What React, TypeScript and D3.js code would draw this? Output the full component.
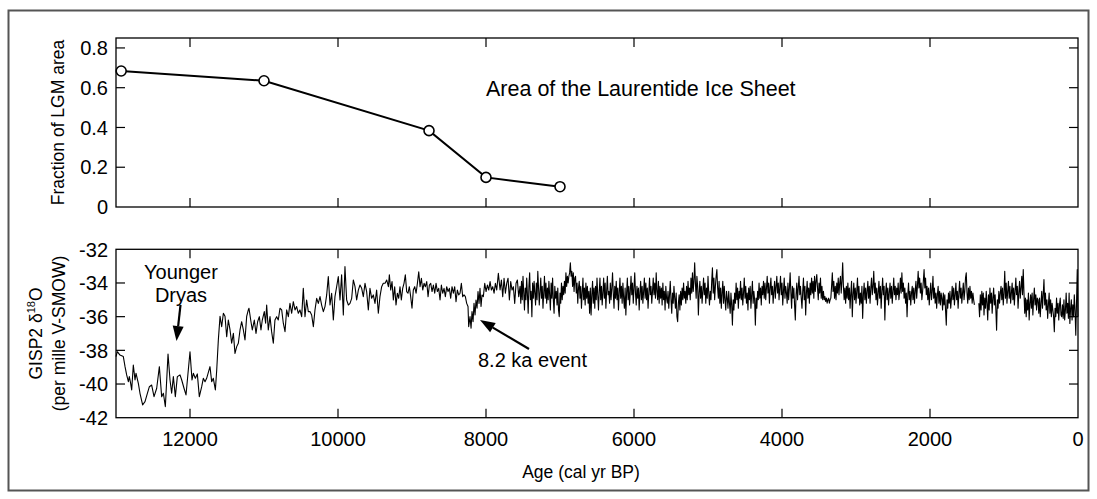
import React from "react";
import * as d3 from "d3";

// ---- Top panel: Laurentide Ice Sheet area (fraction of LGM) ----
const lisAge = [12930, 11000, 8770, 8000, 7000];
const lisFraction = [0.684, 0.635, 0.384, 0.149, 0.102];

// ---- Bottom panel: GISP2 d18O ----
// Deglacial / early Holocene section, read as [age, d18O]
const earlyRecord: [number, number][] = [
  [13000,-38.37],[12982,-38.08],[12946,-38.28],[12901,-38.37],[12878,-38.97],[12856,-39.46],[12833,-39.86],[12820,-39.56],
  [12802,-39.96],[12788,-40.35],[12766,-38.87],[12743,-39.76],[12730,-39.36],[12698,-39.96],[12676,-40.55],[12640,-41.24],
  [12608,-41.05],[12576,-40.55],[12549,-40.16],[12518,-40.06],[12486,-40.75],[12450,-40.25],[12414,-38.97],[12383,-40.75],
  [12360,-40.55],[12333,-41.34],[12297,-38.22],[12270,-39.76],[12248,-40.55],[12225,-39.56],[12198,-40.75],[12171,-39.56],
  [12135,-39.46],[12112,-39.76],[12081,-40.25],[12054,-40.65],[12027,-39.36],[12000,-38.08],[11973,-39.76],[11955,-39.36],
  [11928,-39.66],[11901,-39.40],[11874,-40.75],[11842,-40.16],[11820,-39.66],[11797,-39.86],[11775,-39.66],[11730,-38.97],
  [11707,-39.86],[11685,-39.66],[11657,-40.35],[11639,-39.17],[11617,-37.38],[11594,-35.98],[11572,-36.59],[11549,-35.80],
  [11527,-35.98],[11504,-37.19],[11482,-36.20],[11459,-36.79],[11437,-37.58],[11414,-36.99],[11392,-38.18],[11369,-37.78],
  [11347,-37.58],[11324,-36.79],[11302,-36.30],[11279,-36.79],[11257,-37.38],[11234,-35.98],[11212,-35.60],
  [11203,-35.50],[11176,-36.30],[11158,-36.79],[11131,-36.20],[11108,-36.99],[11086,-36.30],[11063,-36.00],[11041,-36.79],
  [11023,-36.20],[10996,-35.70],[10978,-36.39],[10964,-35.31],[10942,-36.79],[10919,-36.00],[10897,-36.89],[10874,-37.58],
  [10852,-36.20],[10829,-36.00],[10807,-36.20],[10784,-35.50],[10761,-35.60],[10739,-36.39],[10716,-36.89],[10694,-35.60],
  [10671,-36.00],[10649,-35.21],[10626,-35.80],[10604,-35.11],[10581,-35.60],[10559,-35.40],[10536,-35.80],[10514,-35.60],
  [10491,-36.00],[10469,-34.32],[10446,-36.00],[10424,-35.01],[10401,-35.70],[10379,-35.70],[10356,-35.90],[10333,-36.59],
  [10311,-35.60],[10288,-34.91],[10266,-35.21],[10243,-34.81],[10221,-35.31],[10198,-35.70],[10176,-35.40],[10153,-34.71],
  [10131,-33.62],[10108,-35.31],[10086,-34.61],[10063,-36.20],[10041,-34.81],[10018,-34.22],[9996,-33.62],[9973,-35.01],
  [9951,-33.52],[9928,-35.90],[9906,-33.03],[9883,-35.01],[9860,-35.31],[9838,-35.21],[9815,-34.91],[9793,-33.82],
  [9770,-34.22],[9748,-35.01],[9725,-34.42],[9703,-34.12],[9680,-34.32],[9658,-34.81],[9635,-34.02],[9613,-34.51],
  [9590,-35.60],[9568,-34.32],[9545,-34.91],[9523,-34.71],[9500,-35.21],[9478,-34.42],[9455,-35.80],[9433,-34.81],
  [9410,-34.22],[9388,-34.02],
  [9364,-34.02],[9342,-33.82],[9319,-34.22],[9306,-33.52],[9288,-34.42],[9270,-33.92],[9252,-35.01],[9234,-34.22],
  [9216,-35.31],[9198,-34.61],[9180,-34.91],[9162,-34.22],[9144,-35.01],[9126,-34.32],[9108,-34.02],[9090,-33.52],
  [9072,-34.51],[9054,-34.61],[9036,-34.22],[9018,-34.81],[9000,-35.50],[8982,-34.42],[8963,-34.22],[8945,-34.61],
  [8927,-34.02],[8909,-33.33],[8891,-34.22],[8873,-33.72],[8855,-34.42],[8837,-34.02],[8819,-34.22],[8801,-33.92],
  [8783,-34.81],[8765,-34.12],[8747,-34.02],[8729,-34.51],[8711,-34.12],[8693,-34.61],[8675,-34.02],[8657,-34.51],
  [8639,-34.32],[8621,-35.01],[8603,-34.12],[8585,-34.61],[8567,-34.32],[8549,-34.81],[8531,-34.22],[8513,-34.51],
  [8495,-34.32],[8477,-34.91],[8459,-34.22],[8441,-34.61],[8423,-34.22],[8405,-35.11],[8387,-34.42],[8369,-34.71],
  [8351,-34.61],[8333,-34.02],[8315,-34.81],[8297,-34.71],[8279,-34.81],[8261,-35.21],[8243,-35.40],[8234,-36.59],
  [8216,-36.00],[8202,-36.69],[8189,-35.70],[8175,-36.30],[8162,-35.21],[8148,-35.90],[8135,-35.01],[8121,-35.50],
  [8108,-34.51],[8094,-35.21],[8081,-34.32],[8067,-35.40],[8054,-34.71],[8036,-34.81],[8017,-34.02],[7999,-34.51],
  [7981,-34.12],[7963,-34.42],[7945,-33.92],[7927,-34.42],[7909,-34.22],[7891,-34.61],[7873,-34.02],[7855,-34.42],
  [7833,-33.43],[7810,-34.42],[7792,-33.82],[7774,-34.81],[7756,-33.72],[7738,-34.61],[7720,-34.02],[7702,-33.72],
  [7684,-35.01],[7666,-33.92],[7648,-34.42],[7630,-34.22],[7612,-35.21],[7594,-34.02],[7576,-33.82],[7558,-34.81],
];

// Mid/late Holocene section: one reading every 10 years from 7540 BP down to 0 BP (null = no data)
const lateStartAge = 7540;
const lateStep = 10;
const lateD18O: (number | null)[] = [
  -34.2,-35.2,-33.9,-35.0,-33.6,-34.6,-35.6,-34.3,-35.0,-33.7,
  -34.7,-35.8,-34.2,-33.4,-35.0,-34.5,-36.0,-34.0,-34.9,-33.9,
  -34.6,-35.3,-34.0,-35.0,-33.3,-34.3,-35.3,-34.5,-33.7,-34.9,
  -34.2,-35.5,-34.6,-33.6,-34.9,-34.0,-35.2,-34.3,-35.0,-33.9,
  -34.7,-35.6,-34.0,-34.9,-33.7,-35.0,-35.8,-34.2,-34.9,-34.5,
  -35.3,-34.3,-35.6,-36.0,-34.6,-35.2,-34.0,-35.0,-34.2,-34.7,
  -33.9,-34.6,-33.4,-34.2,-33.6,-34.0,-33.6,-33.4,-32.8,-33.6,
  -33.3,-34.2,-33.4,-34.5,-33.7,-33.6,-34.6,-34.0,-35.2,-34.3,
  -33.9,-34.9,-34.2,-35.5,-34.6,-33.7,-35.0,-34.3,-35.3,-34.0,
  -34.9,-34.2,-35.2,-34.5,-35.8,-34.3,-35.9,-34.7,-33.9,-35.2,
  -34.3,-35.5,-34.2,-35.0,-33.7,-34.7,-35.6,-34.5,-33.7,-35.0,
  -34.2,-35.3,-34.6,-33.7,-34.9,-34.0,-35.5,-34.5,-33.6,-34.7,
  -34.5,-35.2,-34.0,-35.0,-34.3,-33.4,-34.6,-35.5,-34.2,-34.9,
  -33.9,-35.0,-34.3,-35.6,-34.6,-33.7,-34.9,-34.2,-35.2,-34.0,
  -34.9,-35.5,-34.3,-35.9,-34.6,-33.7,-35.0,-34.2,-35.3,-34.5,
  -33.6,-34.7,-34.0,-35.2,-34.3,-33.4,-34.6,-35.3,-34.2,-34.9,
  -34.3,-35.6,-34.6,-33.9,-35.0,-34.2,-35.2,-34.5,-33.7,-34.9,
  -34.0,-35.0,-34.3,-35.5,-34.6,-33.7,-34.7,-34.2,-35.2,-34.5,
  -33.7,-34.7,-34.0,-34.9,-33.4,-34.5,-35.0,-33.9,-35.2,-34.2,
  -34.9,-34.3,-35.3,-34.0,-35.0,-34.5,-35.6,-34.2,-34.9,-35.2,
  -34.5,-35.5,-34.7,-33.9,-35.0,-35.8,-34.6,-35.2,-34.2,-34.9,
  -35.5,-34.6,-36.0,-36.3,-35.2,-34.7,-35.6,-34.5,-35.3,-34.3,
  -35.0,-34.0,-34.9,-34.5,-35.2,-34.2,-35.0,-33.9,-34.7,-34.3,
  -35.0,-33.7,-34.6,-33.4,-34.5,-33.9,-32.8,-34.0,-34.9,-33.6,
  -34.2,-35.9,-34.6,-33.9,-34.9,-34.2,-35.2,-34.5,-33.7,-34.7,
  -34.0,-35.2,-34.3,-34.9,-33.6,-34.6,-35.3,-34.5,-35.0,-33.9,
  -33.1,-34.6,-33.7,-35.0,-34.2,-33.6,-33.2,-34.3,-34.9,-33.9,
  -35.2,-34.3,-35.5,-34.6,-33.9,-35.2,-34.2,-35.0,-35.6,-34.5,
  -34.9,-35.5,-34.5,-35.2,-35.8,-34.6,-35.3,-36.5,-35.0,-35.6,
  -34.6,-35.2,-34.0,-35.0,-34.3,-35.5,-34.5,-34.9,-33.9,-35.0,
  -34.3,-35.3,-34.6,-33.7,-34.9,-34.2,-35.2,-34.6,-35.6,-34.3,
  -35.0,-34.2,-35.5,-34.7,-33.9,-35.2,-34.5,-35.0,-36.5,-34.9,
  -35.5,-34.5,-35.0,-34.0,-34.9,-34.3,-35.3,-34.2,-34.7,-33.9,
  -34.9,-34.0,-35.0,-34.3,-33.6,-34.6,-34.0,-35.2,-34.3,-33.7,
  -34.7,-34.2,-35.2,-34.5,-33.9,-34.9,-34.2,-33.6,-34.6,-34.0,
  -35.0,-34.3,-33.6,-34.7,-34.0,-35.3,-34.5,-33.7,-34.9,-34.2,
  -34.6,-35.2,-34.0,-35.0,-34.3,-33.4,-34.6,-35.5,-34.2,-34.9,
  -34.3,-35.3,-36.2,-34.7,-34.0,-35.0,-34.3,-33.6,-34.7,-34.2,
  -34.9,-35.5,-34.5,-33.7,-35.0,-34.2,-35.9,-34.6,-33.9,-34.9,
  -34.3,-35.2,-34.0,-34.7,-33.7,-34.6,-33.9,-34.9,-33.6,-34.5,
  -33.9,-33.5,-34.3,-35.0,-34.0,-34.6,-33.7,-34.9,-34.2,-35.0,
  -34.5,-35.0,-34.8,-35.1,-34.9,-35.2,-35.0,-34.9,-35.2,-35.0,
  -34.9,-34.2,-33.4,-34.5,-33.9,-34.9,-34.2,-35.0,-34.0,-34.6,
  -33.7,-34.7,-34.0,-33.6,-34.6,-33.9,-32.8,-34.2,-35.0,-34.3,
  -35.2,-34.2,-34.9,-34.0,-35.0,-34.3,-35.5,-34.6,-33.9,-36.0,
  -34.7,-34.0,-35.0,-34.3,-35.2,-34.5,-33.7,-34.9,-34.2,-35.3,
  -34.6,-35.2,-34.2,-36.1,-34.7,-34.0,-35.0,-34.3,-35.2,-34.5,
  -33.9,-34.9,-34.2,-35.2,-34.3,-33.7,-34.7,-34.2,-33.3,-34.6,
  -34.0,-35.0,-34.3,-35.3,-34.6,-33.9,-34.9,-34.2,-35.5,-34.5,
  -33.7,-34.7,-34.2,-36.2,-34.6,-34.0,-35.0,-34.3,-35.3,-34.6,
  -34.0,-34.9,-34.2,-35.2,-34.5,-33.7,-34.7,-34.2,-35.0,-34.3,
  -34.7,-34.0,-35.0,-34.5,-33.7,-34.6,-33.4,-34.5,-34.0,-34.9,
  -34.3,-35.2,-34.6,-36.0,-34.7,-34.0,-35.0,-34.5,-35.3,-34.6,
  -34.2,-35.0,-34.3,-35.2,-34.5,-33.9,-34.9,-34.2,-33.3,-34.3,
  -33.7,-34.6,-34.0,-35.0,-34.5,-33.9,-33.2,-34.3,-33.7,-34.7,
  -34.2,-35.0,-34.3,-35.3,-34.6,-34.0,-35.0,-34.5,-33.6,-34.9,
  -34.3,-35.2,-34.6,-35.5,-34.7,-34.2,-35.2,-34.5,-35.3,-34.6,
  -34.9,-35.6,-34.6,-35.3,-34.7,-35.6,-36.5,-35.0,-35.5,-34.6,
  -35.2,-34.5,-35.5,-34.9,-34.2,-35.0,-34.3,-35.3,-34.7,-34.0,
  -35.0,-34.5,-35.5,-34.6,-33.9,-34.9,-34.3,-35.2,-34.6,-34.0,
  -35.0,-34.5,-33.7,-33.4,-34.6,-35.2,-34.3,-35.0,-34.2,-34.9,
  -34.5,-35.2,-34.6,-35.0,-35.3,null,null,null,null,null,
  -35.2,-36.0,-34.7,-35.6,-34.5,-35.3,-34.6,-35.9,-34.9,-35.5,
  -34.5,-35.2,-36.2,-34.7,-35.6,-34.3,-35.2,-34.6,-35.8,-34.9,
  -34.3,-35.3,-34.7,-35.6,-36.8,-35.0,-35.5,-34.5,-35.2,-34.6,
  -34.2,-35.0,-34.3,-35.3,-34.6,-33.3,-34.9,-34.0,-35.2,-34.5,
  -33.9,-34.9,-34.2,-35.2,-34.6,-34.0,-35.0,-34.3,-35.3,-34.5,
  -33.7,-34.7,-34.2,-35.5,-34.6,-33.9,-34.9,-34.3,-33.6,-34.7,
  -33.2,-34.6,-35.8,-34.9,-36.0,-35.0,-35.6,-34.6,-36.2,-35.2,
  -34.7,-35.5,-34.6,-35.9,-35.0,-34.3,-35.3,-34.7,-35.6,-34.9,
  -35.0,-35.8,-34.9,-36.0,-35.2,-34.5,-35.5,-34.7,-33.8,-35.3,
  -34.6,-35.6,-35.0,-36.1,-35.3,-34.6,-35.8,-35.0,-36.0,-35.2,
  -35.6,-36.0,-36.9,-35.5,-36.0,-34.9,-35.8,-35.2,-36.2,-35.3,
  -34.9,-35.9,-36.0,-35.3,-36.1,-35.0,-36.2,-35.6,-34.6,-35.8,
  -35.2,-36.1,-34.6,-36.4,-35.5,-35.0,-36.2,-35.3,-36.0,-34.7,
  -35.6,-37.1,-35.2,-33.2,-36.0,
];

// ---- Axes ----
const xTicks = [12000, 10000, 8000, 6000, 4000, 2000, 0];
const topYTicks = [0, 0.2, 0.4, 0.6, 0.8];
const topYLabels = ["0", "0.2", "0.4", "0.6", "0.8"];
const botYTicks = [-32, -34, -36, -38, -40, -42];
const botYLabels = ["-32", "-34", "-36", "-38", "-40", "-42"];

const W = 1097;
const H = 499;
const L = 116;
const R = 1078;
const top1 = 38, bot1 = 207;
const top2 = 249.3, bot2 = 417.7;
const TICK = 9;
const FONT = "'Liberation Sans', Arial, Helvetica, sans-serif";

function Arrow({ x1, y1, x2, y2 }: { x1: number; y1: number; x2: number; y2: number }) {
  const dx = x2 - x1, dy = y2 - y1;
  const len = Math.hypot(dx, dy);
  const ux = dx / len, uy = dy / len;
  const hl = 15, hw = 5.5;
  const bx = x2 - ux * hl, by = y2 - uy * hl;
  const pts = [
    [x2, y2],
    [bx - uy * hw, by + ux * hw],
    [bx + uy * hw, by - ux * hw],
  ];
  return (
    <g>
      <line x1={x1} y1={y1} x2={bx} y2={by} stroke="#000" strokeWidth={2.2} />
      <polygon points={pts.map((p) => p.join(",")).join(" ")} fill="#000" />
    </g>
  );
}

export default function App() {
  const x = d3.scaleLinear().domain([13000, 0]).range([L, R]);
  const y1 = d3.scaleLinear().domain([0, 0.85]).range([bot1, top1]);
  const y2 = d3.scaleLinear().domain([-42, -32]).range([bot2, top2]);

  const lisData = lisAge.map((a, i) => ({ a, v: lisFraction[i] }));
  const lisLine = d3
    .line<{ a: number; v: number }>()
    .x((d) => x(d.a))
    .y((d) => y1(d.v));

  const record: { a: number; v: number | null }[] = [
    ...earlyRecord.map(([a, v]) => ({ a, v })),
    ...lateD18O.map((v, i) => ({ a: lateStartAge - i * lateStep, v })),
  ];
  const coreLine = d3
    .line<{ a: number; v: number | null }>()
    .defined((d) => d.v !== null)
    .x((d) => x(d.a))
    .y((d) => y2(d.v as number));

  const innerX = xTicks.filter((t) => t !== 0);

  return (
    <svg
      width={W}
      height={H}
      style={{ position: "absolute", left: 0, top: 0, background: "#fff" }}
      fontFamily={FONT}
    >
      <rect x={0} y={0} width={W} height={H} fill="#fff" />
      <rect x={8.5} y={10.5} width={1080} height={480} fill="none" stroke="#555" strokeWidth={2} />

      {/* ---------- top panel ---------- */}
      <g>
        {innerX.map((t) => (
          <g key={"t1x" + t}>
            <line x1={x(t)} x2={x(t)} y1={top1} y2={top1 + TICK} stroke="#000" strokeWidth={1.2} />
            <line x1={x(t)} x2={x(t)} y1={bot1} y2={bot1 - TICK} stroke="#000" strokeWidth={1.2} />
          </g>
        ))}
        {topYTicks.map((t, i) => (
          <g key={"t1y" + t}>
            {t !== 0 && (
              <>
                <line x1={L} x2={L + TICK} y1={y1(t)} y2={y1(t)} stroke="#000" strokeWidth={1.2} />
                <line x1={R} x2={R - TICK} y1={y1(t)} y2={y1(t)} stroke="#000" strokeWidth={1.2} />
              </>
            )}
            <text x={108} y={y1(t)} dy="0.36em" textAnchor="end" fontSize={20} fill="#000">
              {topYLabels[i]}
            </text>
          </g>
        ))}
        <path d={lisLine(lisData) || ""} fill="none" stroke="#000" strokeWidth={2} />
        {lisData.map((d, i) => (
          <circle key={"c" + i} cx={x(d.a)} cy={y1(d.v)} r={5} fill="#fff" stroke="#000" strokeWidth={1.6} />
        ))}
        <rect x={L} y={top1} width={R - L} height={bot1 - top1} fill="none" stroke="#000" strokeWidth={1.3} />
        <text x={486} y={96} fontSize={21.5} fill="#000">
          Area of the Laurentide Ice Sheet
        </text>
        <text
          transform={`translate(58,${(top1 + bot1) / 2}) rotate(-90)`}
          textAnchor="middle"
          dy="0.35em"
          fontSize={17.5}
          fill="#000"
        >
          Fraction of LGM area
        </text>
      </g>

      {/* ---------- bottom panel ---------- */}
      <g>
        {innerX.map((t) => (
          <g key={"t2x" + t}>
            <line x1={x(t)} x2={x(t)} y1={top2} y2={top2 + TICK} stroke="#000" strokeWidth={1.2} />
            <line x1={x(t)} x2={x(t)} y1={bot2} y2={bot2 - TICK} stroke="#000" strokeWidth={1.2} />
          </g>
        ))}
        {botYTicks.map((t, i) => (
          <g key={"t2y" + t}>
            {t !== -32 && t !== -42 && (
              <>
                <line x1={L} x2={L + TICK} y1={y2(t)} y2={y2(t)} stroke="#000" strokeWidth={1.2} />
                <line x1={R} x2={R - TICK} y1={y2(t)} y2={y2(t)} stroke="#000" strokeWidth={1.2} />
              </>
            )}
            <text x={108} y={y2(t)} dy="0.36em" textAnchor="end" fontSize={20} fill="#000">
              {botYLabels[i]}
            </text>
          </g>
        ))}
        {xTicks.map((t) => (
          <text key={"xl" + t} x={x(t)} y={446} textAnchor="middle" fontSize={20} fill="#000">
            {t}
          </text>
        ))}
        <path d={coreLine(record) || ""} fill="none" stroke="#000" strokeWidth={1.1} strokeLinejoin="round" />
        <rect x={L} y={top2} width={R - L} height={bot2 - top2} fill="none" stroke="#000" strokeWidth={1.3} />

        <text x={181} y={279} textAnchor="middle" fontSize={20} fill="#000">
          Younger
        </text>
        <text x={181} y={302} textAnchor="middle" fontSize={20} fill="#000">
          Dryas
        </text>
        <Arrow x1={180.5} y1={305} x2={176.5} y2={341} />

        <text x={478} y={367} fontSize={20} fill="#000">
          8.2 ka event
        </text>
        <Arrow x1={529} y1={349} x2={480} y2={320} />

        <text
          transform={`translate(36,${(top2 + bot2) / 2}) rotate(-90)`}
          textAnchor="middle"
          dy="0.35em"
          fontSize={17.5}
          fill="#000"
        >
          GISP2 δ<tspan dy="-7" fontSize={11}>18</tspan>
          <tspan dy="7">O</tspan>
        </text>
        <text
          transform={`translate(59,${(top2 + bot2) / 2}) rotate(-90)`}
          textAnchor="middle"
          dy="0.35em"
          fontSize={17.5}
          fill="#000"
        >
          (per mille V-SMOW)
        </text>
        <text x={581} y={478} textAnchor="middle" fontSize={17.5} fill="#000">
          Age (cal yr BP)
        </text>
      </g>
    </svg>
  );
}
